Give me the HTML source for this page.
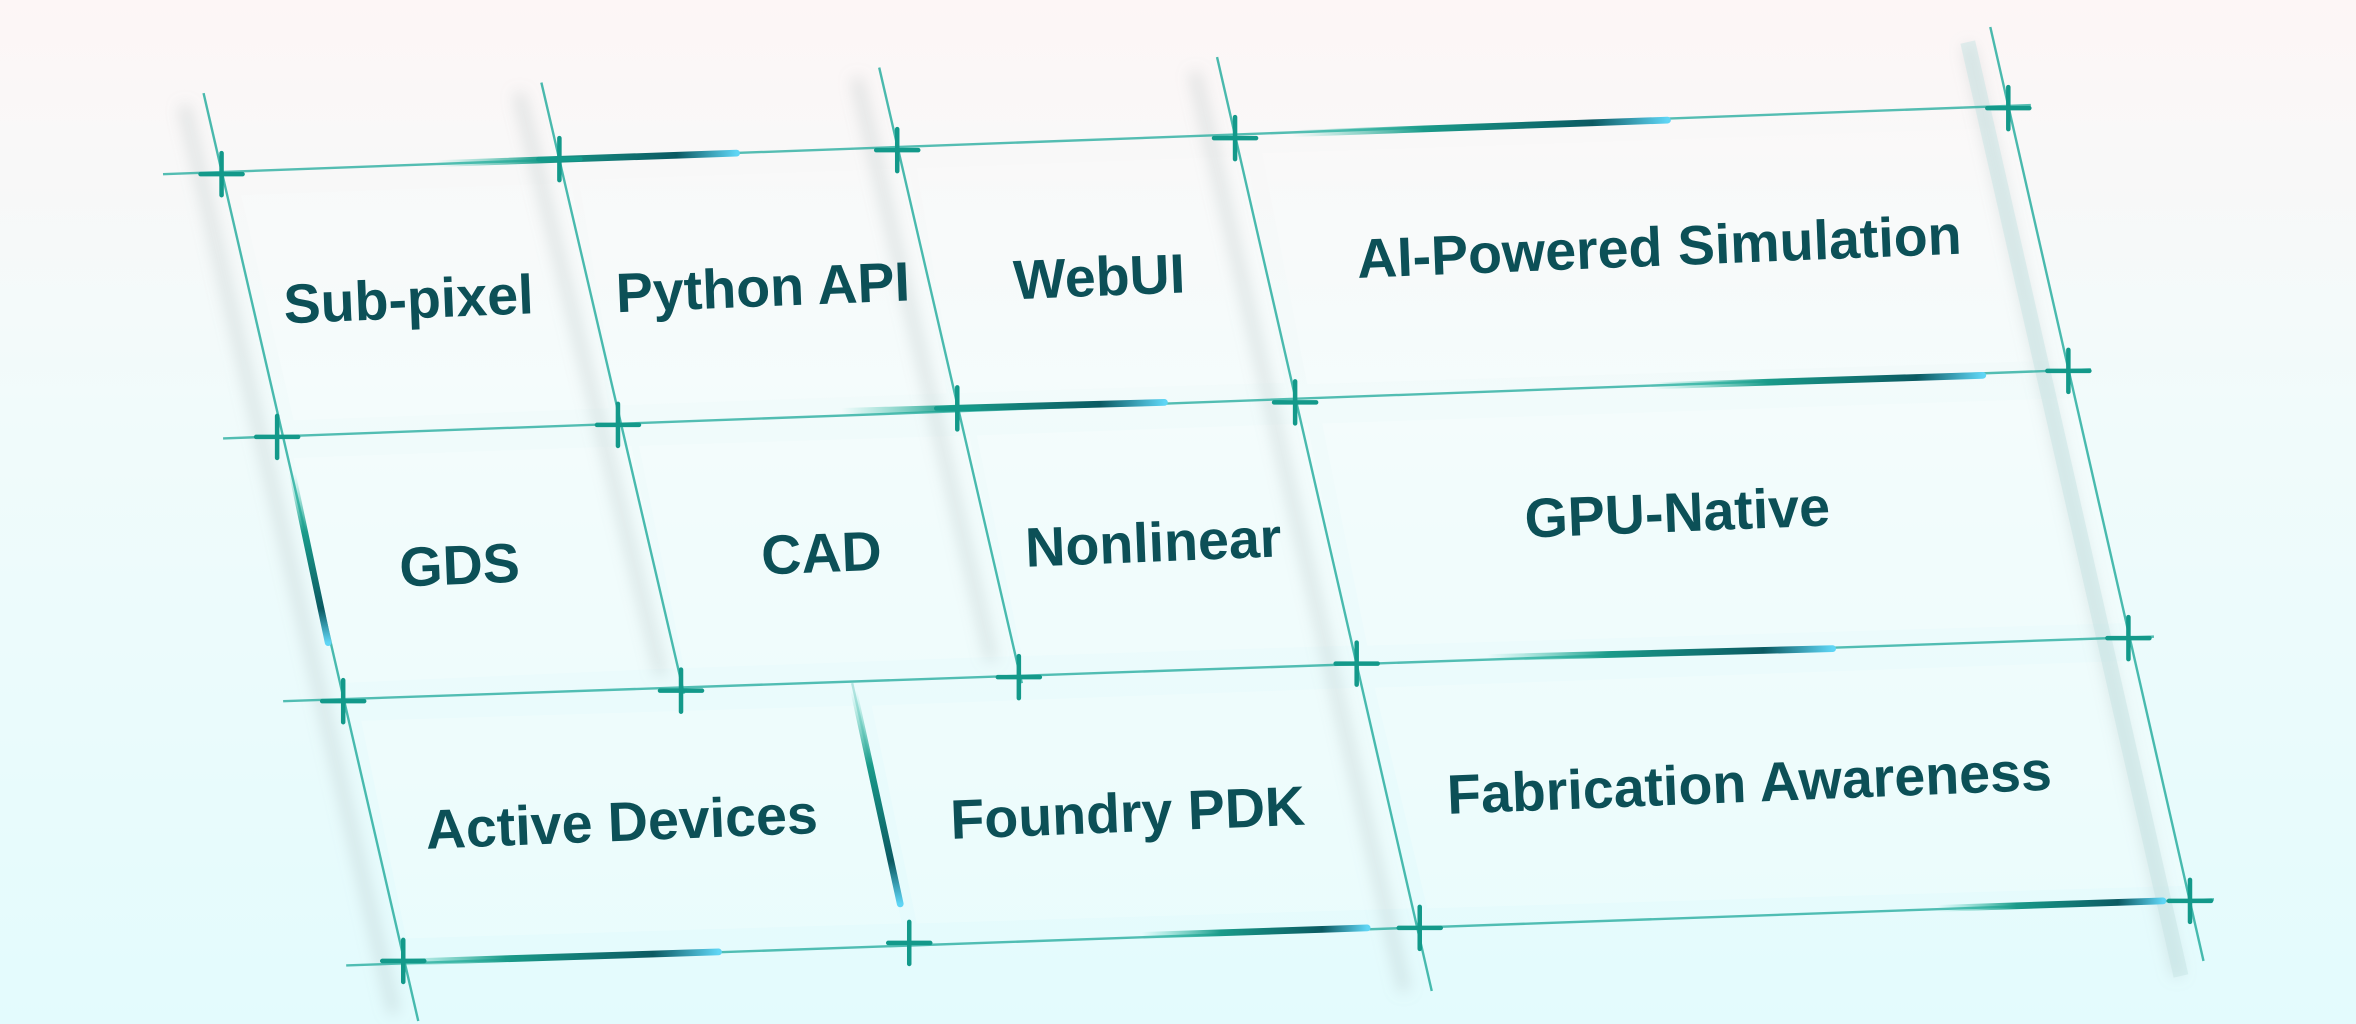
<!DOCTYPE html>
<html><head><meta charset="utf-8"><style>
html,body{margin:0;padding:0;}
body{width:2356px;height:1024px;overflow:hidden;background:linear-gradient(180deg,#fdf6f6 0%,#f1fbfb 40%,#e3fbfd 100%);}
svg{display:block}
text{font-family:"Liberation Sans",sans-serif;font-weight:bold;fill:#0c5057;font-size:37px;}
</style></head><body>
<svg width="2356" height="1024" viewBox="0 0 1568 682" xmlns="http://www.w3.org/2000/svg">
<defs>
<filter id="b6" x="-50%" y="-50%" width="200%" height="200%"><feGaussianBlur stdDeviation="5"/></filter>
<linearGradient id="gh" x1="0" x2="1" y1="0" y2="0">
<stop offset="0" stop-color="#3cc8b0" stop-opacity="0"/><stop offset="0.35" stop-color="#1a9b8a"/><stop offset="0.8" stop-color="#0b5a62"/><stop offset="1" stop-color="#5fd5f5"/></linearGradient>
<linearGradient id="gv" x1="0" x2="0" y1="0" y2="1">
<stop offset="0" stop-color="#3cc8b0" stop-opacity="0"/><stop offset="0.35" stop-color="#1a9b8a"/><stop offset="0.8" stop-color="#0b5a62"/><stop offset="1" stop-color="#5fd5f5"/></linearGradient>
</defs>
<g fill="#ffffff" fill-opacity="0.22" stroke="none">
<polygon points="160,130 380,122 405,272 195,280"/>
<polygon points="385,120 605,112 630,262 410,270"/>
<polygon points="610,112 830,104 855,255 635,262"/>
<polygon points="840,102 1340,85 1375,240 870,256"/>
<polygon points="195,305 420,297 450,445 225,455"/>
<polygon points="425,297 645,290 675,437 455,445"/>
<polygon points="650,290 870,282 900,430 680,437"/>
<polygon points="880,282 1380,265 1415,415 910,430"/>
<polygon points="240,480 570,470 600,615 270,625"/>
<polygon points="580,470 905,458 940,605 610,615"/>
<polygon points="915,458 1420,440 1455,590 950,605"/>
</g>
<g stroke="#9aa" stroke-opacity="0.35" stroke-width="6" filter="url(#b6)">
<line x1="122" y1="70" x2="262" y2="675"/>
<line x1="345" y1="62" x2="440" y2="450"/>
<line x1="570" y1="52" x2="660" y2="440"/>
<line x1="795" y1="48" x2="935" y2="660"/>
<line x1="1310" y1="30" x2="1450" y2="650"/>
</g>
<line x1="1310" y1="28" x2="1452" y2="650" stroke="#c4e2e2" stroke-width="10" stroke-opacity="0.45"/>
<g stroke="#2aaea0" stroke-width="1.6" stroke-opacity="0.8">
<line x1="108" y1="116" x2="1352" y2="70"/>
<line x1="148" y1="292" x2="1392" y2="246"/>
<line x1="188" y1="467" x2="1434" y2="424"/>
<line x1="230" y1="643" x2="1474" y2="599"/>
</g>
<g stroke="#2aaea0" stroke-width="1.6" stroke-opacity="0.85">
<line x1="135" y1="62" x2="278" y2="680"/>
<line x1="360" y1="55" x2="455" y2="462"/>
<line x1="585" y1="45" x2="680" y2="455"/>
<line x1="810" y1="38" x2="953" y2="660"/>
<line x1="1325" y1="18" x2="1467" y2="640"/>
<line x1="567" y1="455" x2="600" y2="602" stroke-opacity="0.3"/>
</g>
<g stroke="url(#gh)" stroke-width="4.5" stroke-linecap="round">
<line x1="290" y1="109" x2="490" y2="102"/>
<line x1="860" y1="89" x2="1110" y2="80"/>
<line x1="560" y1="274" x2="775" y2="268"/>
<line x1="1100" y1="257" x2="1320" y2="250"/>
<line x1="990" y1="438" x2="1220" y2="432"/>
<line x1="260" y1="641" x2="478" y2="634"/>
<line x1="760" y1="623" x2="910" y2="618"/>
<line x1="1290" y1="605" x2="1440" y2="600"/>
</g>
<g stroke="url(#gv)" stroke-width="4.5" stroke-linecap="round">
<line x1="194" y1="315" x2="218" y2="428"/>
<line x1="568" y1="460" x2="599" y2="602"/>
</g>
<g stroke="#13998a" stroke-width="3" stroke-linecap="round">
<path d="M133,116h28M147,102v28"/>
<path d="M358,106h28M372,92v28"/>
<path d="M583,100h28M597,86v28"/>
<path d="M808,92h28M822,78v28"/>
<path d="M1323,72h28M1337,58v28"/>
<path d="M170,291h28M184,277v28"/>
<path d="M397,283h28M411,269v28"/>
<path d="M623,272h28M637,258v28"/>
<path d="M848,268h28M862,254v28"/>
<path d="M1363,247h28M1377,233v28"/>
<path d="M214,467h28M228,453v28"/>
<path d="M439,460h28M453,446v28"/>
<path d="M664,451h28M678,437v28"/>
<path d="M889,442h28M903,428v28"/>
<path d="M1403,425h28M1417,411v28"/>
<path d="M254,640h28M268,626v28"/>
<path d="M591,628h28M605,614v28"/>
<path d="M931,618h28M945,604v28"/>
<path d="M1444,600h28M1458,586v28"/>
</g>
<g text-anchor="middle">
<text transform="translate(272,212) rotate(-2.3)">Sub-pixel</text>
<text transform="translate(508,204) rotate(-2.3)">Python API</text>
<text transform="translate(732,197) rotate(-2.3)">WebUI</text>
<text transform="translate(1105,177) rotate(-2.3)">AI-Powered Simulation</text>
<text transform="translate(306,389) rotate(-2.3)">GDS</text>
<text transform="translate(547,381) rotate(-2.3)">CAD</text>
<text transform="translate(768,374) rotate(-2.3)">Nonlinear</text>
<text transform="translate(1117,354) rotate(-2.3)">GPU-Native</text>
<text transform="translate(414,560) rotate(-2.3)">Active Devices</text>
<text transform="translate(751,554) rotate(-2.3)">Foundry PDK</text>
<text transform="translate(1165,534) rotate(-2.3)">Fabrication Awareness</text>
</g>
</svg>
</body></html>
